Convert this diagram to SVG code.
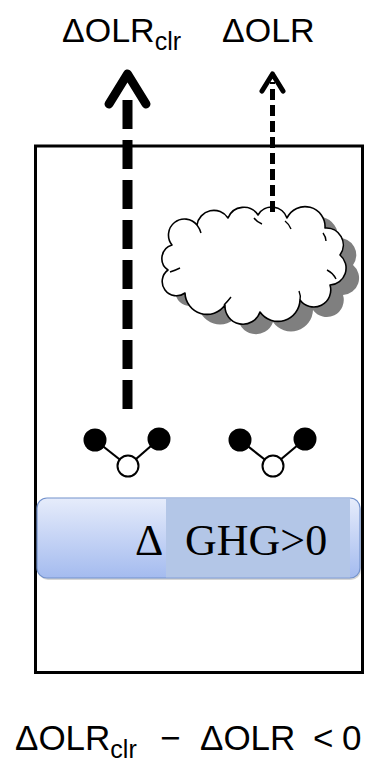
<svg xmlns="http://www.w3.org/2000/svg" width="370" height="762" viewBox="0 0 370 762">
  <style>
    .lbl { font-family: "Liberation Sans", Arial, sans-serif; fill: #000; }
    .serif { font-family: "Liberation Serif", "Times New Roman", serif; fill: #000; }
    .frame { fill: none; stroke: #000; stroke-width: 3; }
    .atom-dark { fill: #000; }
    .atom-light { fill: #fff; stroke: #000; stroke-width: 2; }
    .bond { stroke: #000; stroke-width: 2.2; }
    .cloud { fill: #fff; stroke: #000; stroke-width: 1.6; stroke-linejoin: round; }
    .cloud-shadow { fill: #7f7f7f; }
    .curl { fill: none; stroke: #000; stroke-width: 1.4; }
  </style>
  <defs>
    <linearGradient id="barFill" x1="0" y1="0" x2="0" y2="1">
      <stop offset="0" stop-color="#e6ecfb"/>
      <stop offset="1" stop-color="#a4bbef"/>
    </linearGradient>
    <path id="cloudShape" d="M172,245 A16,16 0 0 1 197,225 A17,17 0 0 1 228,218 A17,17 0 0 1 258,215 A16,16 0 0 1 287,218 A20,20 0 0 1 325,228 A17,17 0 0 1 340,255 A17,17 0 0 1 330,285 A17,17 0 0 1 300,300 A22,22 0 0 1 260,312 A18,18 0 0 1 225,305 A22,22 0 0 1 185,293 A14,14 0 0 1 168,270 A14,14 0 0 1 172,245 Z"/>
  </defs>

  <!-- outer column -->
  <rect id="column" class="frame" x="35.5" y="146" width="327" height="526.5"/>

  <!-- cloud with drop shadow -->
  <g id="cloud">
    <use href="#cloudShape" class="cloud-shadow" transform="translate(13,10)"/>
    <use href="#cloudShape" class="cloud"/>
    <path class="curl" d="M254,218 Q257,222 262,224"/>
    <path class="curl" d="M285,221 Q289,224 291,229"/>
    <path class="curl" d="M323,233 Q326,237 326,241"/>
    <path class="curl" d="M327,270 Q333,273 336,279"/>
    <path class="curl" d="M300,300 Q301,296 299,291"/>
    <path class="curl" d="M224,305 Q228,301 231,297"/>
    <path class="curl" d="M180,268 Q176,270 170,272"/>
    <path class="curl" d="M197,225 Q200,229 201,233"/>
  </g>

  <!-- connectors: upward radiation arrows -->
  <g id="connectors" fill="none" stroke="#000">
    <path d="M127.5,409 V100" stroke-width="10" stroke-dasharray="29 11"/>
    <path d="M109,104 L127.5,74 L146,104" stroke-width="9" stroke-linecap="round" stroke-linejoin="round"/>
    <path d="M272.5,212 V82" stroke-width="5" stroke-dasharray="11 5"/>
    <path d="M262,91 L272.5,74 L283,91" stroke-width="5" stroke-linecap="round" stroke-linejoin="round"/>
  </g>

  <!-- greenhouse gas molecules -->
  <g id="molecule-left">
    <line class="bond" x1="95" y1="440" x2="128" y2="466"/>
    <line class="bond" x1="159" y1="439" x2="128" y2="466"/>
    <circle class="atom-dark" cx="95" cy="440" r="11.5"/>
    <circle class="atom-dark" cx="159" cy="439" r="11.5"/>
    <circle class="atom-light" cx="128" cy="466" r="10.5"/>
  </g>
  <g id="molecule-right">
    <line class="bond" x1="240" y1="440" x2="273" y2="466"/>
    <line class="bond" x1="305" y1="439" x2="273" y2="466"/>
    <circle class="atom-dark" cx="240" cy="440" r="11.5"/>
    <circle class="atom-dark" cx="305" cy="439" r="11.5"/>
    <circle class="atom-light" cx="273" cy="466" r="10.5"/>
  </g>

  <!-- GHG increase bar -->
  <g id="ghg-bar">
    <rect x="38" y="500" width="323" height="80" rx="10" fill="#8a8a8a" opacity="0.35"/>
    <rect x="37" y="498" width="323" height="80" rx="10" fill="url(#barFill)" stroke="#7392cc" stroke-width="1.2"/>
    <rect x="166" y="498.6" width="184" height="78.8" fill="#b3c6e7"/>
    <text class="serif" x="135" y="555" font-size="44">Δ</text>
    <text class="serif" x="185" y="555" font-size="44">GHG&gt;0</text>
  </g>

  <!-- top labels -->
  <g id="label-olr-clr">
    <text class="lbl" x="62" y="42" font-size="34">ΔOLR<tspan font-size="25" dy="8">clr</tspan></text>
  </g>
  <g id="label-olr">
    <text class="lbl" x="222" y="42" font-size="34">ΔOLR</text>
  </g>

  <!-- bottom relation -->
  <g id="label-relation">
    <text class="lbl" x="15" y="750" font-size="35">ΔOLR<tspan font-size="25" dy="8">clr</tspan><tspan dy="-8" x="160">−</tspan><tspan x="200">ΔOLR</tspan><tspan x="313">&lt;</tspan><tspan x="342">0</tspan></text>
  </g>
</svg>
